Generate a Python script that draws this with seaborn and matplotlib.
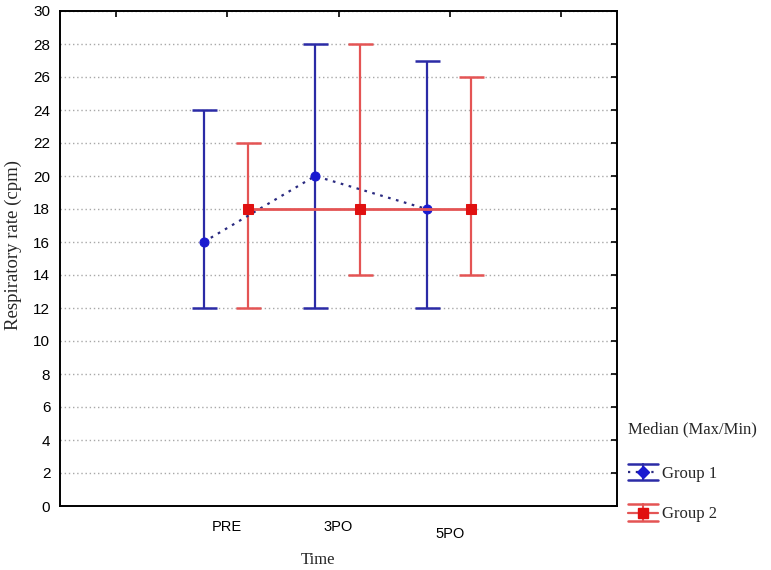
import numpy as np
import pandas as pd
import matplotlib
matplotlib.use("Agg")
import matplotlib.pyplot as plt
import seaborn as sns
from matplotlib.lines import Line2D
from matplotlib.legend_handler import HandlerBase

# ---- data ----
times = ["PRE", "3PO", "5PO"]
tick_labels = ["", "PRE", "3PO", "5PO", ""]
g1_median = [16, 20, 18]
g1_max = [24, 28, 27]
g1_min = [12, 12, 12]
g2_median = [18, 18, 18]
g2_max = [22, 28, 26]
g2_min = [12, 14, 14]
groups = ["Group 1", "Group 2"]

BLUE = "#2b2ba6"
RED = "#e45454"

sns.set_style("white")
plt.rcParams["font.family"] = ["Liberation Sans", "DejaVu Sans"]

fig = plt.figure(figsize=(7.71, 5.70), dpi=100)
ax = fig.add_axes([60 / 771, 1 - 506 / 570, 557 / 771, 495 / 570])

pos = np.arange(1, len(times) + 1)
offsets = [-0.21, 0.19]

rows = []
for g, med, off in zip(groups, [g1_median, g2_median], offsets):
    for p, m in zip(pos, med):
        rows.append({"group": g, "x": p + off, "median": m})
df = pd.DataFrame(rows)

# range bars
for g, mn, mx, off, col in [(groups[0], g1_min, g1_max, offsets[0], BLUE),
                            (groups[1], g2_min, g2_max, offsets[1], RED)]:
    med = df[df.group == g]["median"].to_numpy()
    ax.errorbar(pos + off, med, yerr=[med - np.array(mn), np.array(mx) - med],
                fmt="none", ecolor=col, elinewidth=1.6, capsize=9, capthick=1.8,
                zorder=3)

# median lines
sns.lineplot(data=df[df.group == groups[0]], x="x", y="median", ax=ax,
             color="#2a2a80", linestyle=(0, (1.2, 2.5)), linewidth=1.6,
             marker="o", markersize=6.5, markerfacecolor="#1a1ad0",
             markeredgecolor="#1a1ad0", zorder=4, legend=False)
sns.lineplot(data=df[df.group == groups[1]], x="x", y="median", ax=ax,
             color=RED, linestyle="-", linewidth=2.0,
             marker="s", markersize=7, markerfacecolor="#e01010",
             markeredgecolor="#e01010", zorder=4, legend=False)

ax.set_xlim(-0.5, 4.5)
ax.set_ylim(0, 30)
ax.set_xticks(range(len(tick_labels)))
ax.set_xticklabels(tick_labels)
ax.set_yticks(range(0, 31, 2))
ax.yaxis.grid(True, color="#a8a8a8", linestyle=(0, (1, 2)), linewidth=1.0)
ax.set_axisbelow(True)
for s in ax.spines.values():
    s.set_color("black")
    s.set_linewidth(1.4)
    s.set_visible(True)
ax.tick_params(axis="both", direction="in", length=4, width=1.2, colors="black",
               top=True, right=True, labelsize=10.5)
ax.tick_params(axis="y", labelsize=11)
ax.tick_params(axis="x", pad=10)
ax.tick_params(axis="y", pad=7)
for lab in ax.get_xticklabels():
    if lab.get_text() == "5PO":
        lab.set_y(-0.015)

ax.set_xlabel("Time", family=["Liberation Serif"], fontsize=12)
ax.set_ylabel("Respiratory rate (cpm)", family=["Liberation Serif"], fontsize=13.5)
ax.xaxis.set_label_coords(0.463, -0.093)
ax.yaxis.set_label_coords(-0.068, 0.527)


class ErrGlyph(HandlerBase):
    def __init__(self, color, lcolor, ls, marker, ms, mcolor):
        super().__init__()
        self.c, self.lc, self.ls, self.m, self.ms, self.mc = color, lcolor, ls, marker, ms, mcolor

    def create_artists(self, legend, orig_handle, xd, yd, w, h, fs, trans):
        x0, x1 = -xd, -xd + w
        cy = -yd + h / 2
        half = 6
        arts = [
            Line2D([x0, x1], [cy + half, cy + half], color=self.c, lw=1.8),
            Line2D([x0, x1], [cy - half, cy - half], color=self.c, lw=1.8),
            Line2D([(x0 + x1) / 2] * 2, [cy - half, cy + half], color=self.c, lw=1.5),
            Line2D([x0, x1], [cy, cy], color=self.lc, lw=1.6, linestyle=self.ls),
            Line2D([(x0 + x1) / 2], [cy], marker=self.m, markersize=self.ms,
                   color=self.mc, linestyle="none"),
        ]
        for a in arts:
            a.set_transform(trans)
        return arts


h1 = Line2D([], [])
h2 = Line2D([], [])
leg = fig.legend([h1, h2], groups, loc="upper left",
                 bbox_to_anchor=(613 / 771, 1 - 406 / 570), frameon=False,
                 title="Median (Max/Min)", alignment="left",
                 prop={"family": "Liberation Serif", "size": 12},
                 title_fontproperties={"family": "Liberation Serif", "size": 12},
                 handlelength=1.8, handleheight=1.2, handletextpad=0.25,
                 labelspacing=1.35,
                 handler_map={h1: ErrGlyph(BLUE, "#2a2a80", (0, (1, 2.5)), "D", 6, "#1a1ad0"),
                              h2: ErrGlyph(RED, RED, "-", "s", 6.5, "#e01010")})
leg._legend_box.sep = 19

fig.savefig("out.png", dpi=100)
